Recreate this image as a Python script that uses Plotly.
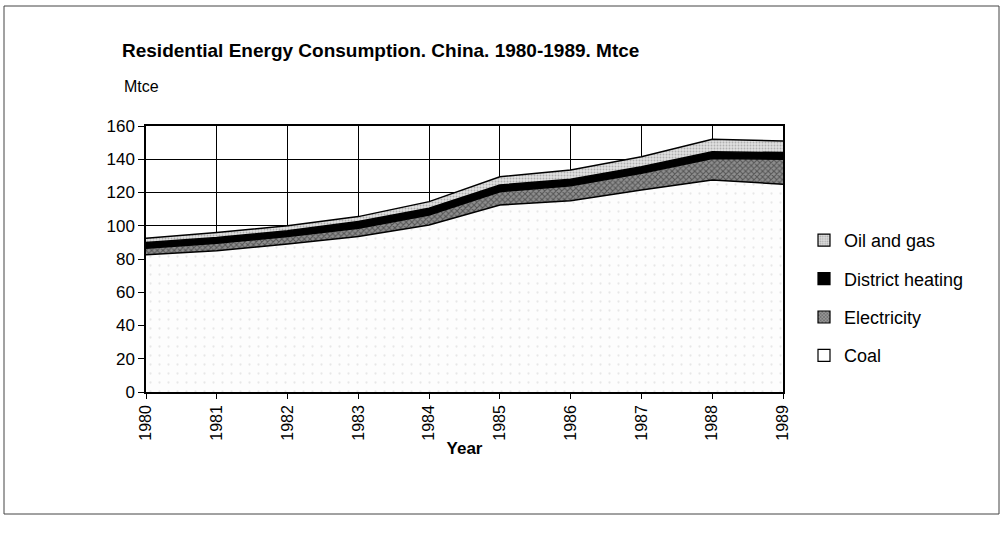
import plotly.graph_objects as go

years = [1980, 1981, 1982, 1983, 1984, 1985, 1986, 1987, 1988, 1989]
coal = [82.5, 85, 89, 93.5, 100.5, 112.5, 115, 121.5, 127.5, 125]
electricity = [4, 4.5, 4.5, 5, 6, 8, 9, 10, 13, 15]
district_heating = [3.5, 3.5, 3.5, 4, 4, 4, 4, 4, 4, 4]
oil_and_gas = [2.5, 3, 3, 3, 4, 5, 5.5, 6, 7.5, 7]

y_ticks = [0, 20, 40, 60, 80, 100, 120, 140, 160]

FONT = "Liberation Sans, Arial, sans-serif"

styles = {
    "Coal": dict(fillcolor="#fdfdfd", fillpattern=dict(shape=".", fgcolor="#d2d2d2", bgcolor="#fdfdfd", size=9, solidity=0.05)),
    "Electricity": dict(fillcolor="#555555", fillpattern=dict(shape="x", fgcolor="#1a1a1a", bgcolor="#8e8e8e", size=4, solidity=0.45)),
    "District heating": dict(fillcolor="#000000"),
    "Oil and gas": dict(fillcolor="#cccccc", fillpattern=dict(shape=".", fgcolor="#808080", bgcolor="#e0e0e0", size=3, solidity=0.3)),
}
legend_marker = {
    "Coal": dict(color="#ffffff"),
    "Electricity": dict(color="#777777", pattern=dict(shape="x", fgcolor="#222222", bgcolor="#999999", size=3, solidity=0.4)),
    "District heating": dict(color="#000000"),
    "Oil and gas": dict(color="#cccccc", pattern=dict(shape=".", fgcolor="#777777", bgcolor="#dddddd", size=3, solidity=0.35)),
}

series = [("Coal", coal), ("Electricity", electricity),
          ("District heating", district_heating), ("Oil and gas", oil_and_gas)]

fig = go.Figure()
for name, vals in series:
    fig.add_trace(go.Scatter(
        x=years, y=vals, name=name, mode="lines", stackgroup="one",
        line=dict(color="#000000", width=1.5), showlegend=False,
        **styles[name],
    ))

# legend-only swatches (square boxes as in the reference)
for rank, (name, vals) in enumerate(reversed(series)):
    m = dict(legend_marker[name])
    m["line"] = dict(color="black", width=1.2)
    fig.add_trace(go.Bar(x=[None], y=[None], name=name, marker=m,
                         showlegend=True, legendgroup=name, legendrank=rank))

fig.update_layout(
    width=1003, height=538,
    margin=dict(l=146, r=220, t=126, b=146),
    paper_bgcolor="white", plot_bgcolor="white",
    font=dict(family=FONT, color="black", size=16),
    title=dict(text="<b>Residential Energy Consumption. China. 1980-1989. Mtce</b>",
               x=122/1003, xanchor="left", y=1-50/538, yanchor="middle",
               font=dict(size=19, family=FONT, color="black")),
    showlegend=True,
    legend=dict(x=(804-146)/637, xanchor="left", y=(392-222)/266, yanchor="top",
                traceorder="grouped", tracegroupgap=12,
                font=dict(size=18, family=FONT, color="black"),
                bgcolor="rgba(0,0,0,0)", itemwidth=30),
    hovermode=False,
)

fig.update_xaxes(
    range=[1980, 1989], tickvals=years, ticktext=[str(y) for y in years],
    tickangle=-90, ticks="outside", ticklen=5, tickcolor="black",
    showgrid=True, gridcolor="black", gridwidth=1,
    showline=True, linecolor="black", linewidth=1.5, mirror=True,
    tickfont=dict(size=16, family=FONT, color="black"),
    title=dict(text="<b>Year</b>", font=dict(size=17, family=FONT, color="black"), standoff=2),
    zeroline=False,
)
fig.update_yaxes(
    range=[0, 160], tickvals=y_ticks, ticks="outside", ticklen=6, tickcolor="black",
    showgrid=True, gridcolor="black", gridwidth=1,
    showline=True, linecolor="black", linewidth=1.5, mirror=True,
    tickfont=dict(size=17, family=FONT, color="black"),
    zeroline=False,
)

fig.add_annotation(text="Mtce", xref="paper", yref="paper",
                   x=(122-146)/637, y=(392-87)/266, xanchor="left", yanchor="middle",
                   showarrow=False, font=dict(size=16, family=FONT, color="black"))

fig.add_shape(type="rect", xref="paper", yref="paper",
              x0=(4-146)/637, x1=(999-146)/637, y0=(392-514)/266, y1=(392-6)/266,
              line=dict(color="#444444", width=1), fillcolor="rgba(0,0,0,0)", layer="below")

fig.write_html("out.html", config={"displayModeBar": False},
               post_script="document.body.style.margin='0';")
